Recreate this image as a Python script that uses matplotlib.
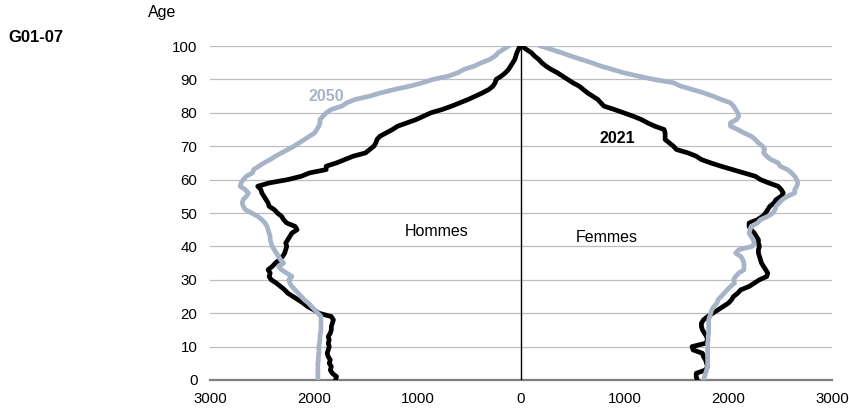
import matplotlib
matplotlib.use("Agg")
import matplotlib.pyplot as plt
import numpy as np

plt.rcParams['font.family'] = ['Liberation Sans', 'DejaVu Sans']

ages = list(range(0, 101))

men_2021 = [1790, 1780, 1820, 1840, 1830, 1850, 1840, 1860, 1870, 1860,
            1850, 1860, 1850, 1860, 1840, 1830, 1830, 1820, 1810, 1830,
            1950, 2000, 2060, 2100, 2150, 2200, 2250, 2280, 2320, 2360,
            2410, 2430, 2420, 2440, 2400, 2370, 2330, 2300, 2280, 2270,
            2260, 2270, 2250, 2230, 2210, 2160, 2180, 2260, 2290, 2310,
            2350, 2380, 2430, 2440, 2460, 2480, 2500, 2510, 2540, 2430,
            2250, 2120, 2040, 1880, 1880, 1780, 1700, 1620, 1500, 1460,
            1420, 1400, 1390, 1360, 1300, 1240, 1190, 1100, 1010, 940,
            870, 760, 670, 590, 510, 440, 370, 310, 270, 250,
            240, 190, 150, 120, 100, 80, 60, 50, 40, 25, 10]

women_2021 = [1700, 1690, 1690, 1780, 1800, 1790, 1780, 1760, 1750, 1660,
              1650, 1780, 1800, 1790, 1770, 1750, 1740, 1740, 1760, 1800,
              1850, 1900, 1950, 2000, 2030, 2050, 2090, 2120, 2200, 2250,
              2300, 2370, 2380, 2360, 2340, 2320, 2310, 2300, 2290, 2290,
              2300, 2290, 2290, 2270, 2250, 2220, 2200, 2200, 2280, 2330,
              2360, 2380, 2400, 2440, 2460, 2510, 2530, 2510, 2480, 2390,
              2310, 2260, 2150, 2040, 1930, 1830, 1740, 1690, 1610, 1500,
              1470, 1430, 1390, 1390, 1390, 1380, 1290, 1220, 1160, 1080,
              990, 900, 800, 770, 740, 690, 640, 600, 560, 500,
              450, 400, 350, 290, 240, 200, 170, 130, 100, 50, 10]

men_2050 = [1960, 1960, 1960, 1960, 1960, 1960, 1955, 1955, 1950, 1950,
            1950, 1945, 1940, 1940, 1935, 1930, 1930, 1930, 1930, 1930,
            1960, 1990, 2020, 2050, 2090, 2120, 2150, 2180, 2210, 2230,
            2240, 2210, 2260, 2310, 2340, 2290, 2320, 2340, 2360, 2380,
            2400, 2410, 2420, 2420, 2430, 2440, 2450, 2470, 2500, 2540,
            2600, 2660, 2680, 2690, 2680, 2650, 2630, 2660, 2710, 2700,
            2680, 2650, 2590, 2580, 2530, 2480, 2420, 2370, 2310, 2250,
            2190, 2140, 2090, 2040, 1990, 1970, 1950, 1940, 1940, 1910,
            1880, 1830, 1730, 1680, 1600, 1460, 1350, 1220, 1070, 950,
            850, 700, 610, 550, 450, 380, 300, 250, 220, 170, 120]

women_2050 = [1760, 1770, 1780, 1790, 1800, 1800, 1800, 1800, 1800, 1800,
              1800, 1800, 1805, 1805, 1810, 1810, 1810, 1810, 1810, 1820,
              1830, 1840, 1860, 1890, 1900, 1930, 1960, 1990, 2020, 2060,
              2050, 2070, 2100, 2150, 2150, 2150, 2140, 2120, 2070, 2100,
              2230, 2250, 2240, 2220, 2200, 2210, 2220, 2280, 2310, 2380,
              2430, 2450, 2460, 2490, 2520, 2570, 2640, 2640, 2660, 2670,
              2660, 2640, 2610, 2570, 2500, 2480, 2410, 2370, 2340, 2350,
              2330, 2290, 2260, 2220, 2150, 2090, 2020, 2020, 2080, 2100,
              2090, 2070, 2050, 2020, 1930, 1850, 1760, 1650, 1540, 1470,
              1280, 1130, 990, 880, 770, 680, 580, 480, 390, 290, 190]

x_ticks = [-3000, -2000, -1000, 0, 1000, 2000, 3000]
x_tick_labels = ["3000", "2000", "1000", "0", "1000", "2000", "3000"]
y_ticks = list(range(0, 101, 10))

BLACK = "#000000"
GREY = "#A7B4C8"

fig = plt.figure(figsize=(8.49, 4.12), dpi=100)
ax = fig.add_axes([0.2474, 0.0777, 0.7326, 0.8106])

ax.set_xlim(-3000, 3000)
ax.set_ylim(0, 100)

for y in y_ticks[1:]:
    ax.axhline(y, color="#BDBDBD", linewidth=0.9, zorder=1)
ax.axhline(0, color="#7F7F7F", linewidth=1.6, zorder=1, clip_on=False)
ax.axvline(0, color="#000000", linewidth=1.0, zorder=2)

lw = 3.4
ax.plot(-np.array(men_2021), ages, color=BLACK, linewidth=lw, zorder=3)
ax.plot(women_2021, ages, color=BLACK, linewidth=lw, zorder=3)
ax.plot(-np.array(men_2050), ages, color=GREY, linewidth=lw, zorder=4)
ax.plot(women_2050, ages, color=GREY, linewidth=lw, zorder=4)

ax.set_xticks(x_ticks)
ax.set_xticklabels(x_tick_labels)
ax.set_yticks(y_ticks)
ax.tick_params(axis="both", length=0, labelsize=10.8, colors="#000000")
ax.tick_params(axis="y", pad=9)
ax.tick_params(axis="x", pad=9)
for s in ax.spines.values():
    s.set_visible(False)

fig.text(148 / 849, 1 - 13 / 412, "Age", fontsize=11.5, ha="left", va="center")
fig.text(8 / 849, 1 - 37 / 412, "G01-07", fontsize=12, fontweight="bold",
         ha="left", va="center")
ax.text(-1880, 85, "2050", color=GREY, fontsize=11.5, fontweight="bold",
        ha="center", va="center")
ax.text(926, 72.2, "2021", color=BLACK, fontsize=11.5, fontweight="bold",
        ha="center", va="center")
ax.text(-810, 44.6, "Hommes", fontsize=11.5, ha="center", va="center")
ax.text(830, 42.8, "Femmes", fontsize=11.5, ha="center", va="center")

fig.savefig("out.png", dpi=100)
